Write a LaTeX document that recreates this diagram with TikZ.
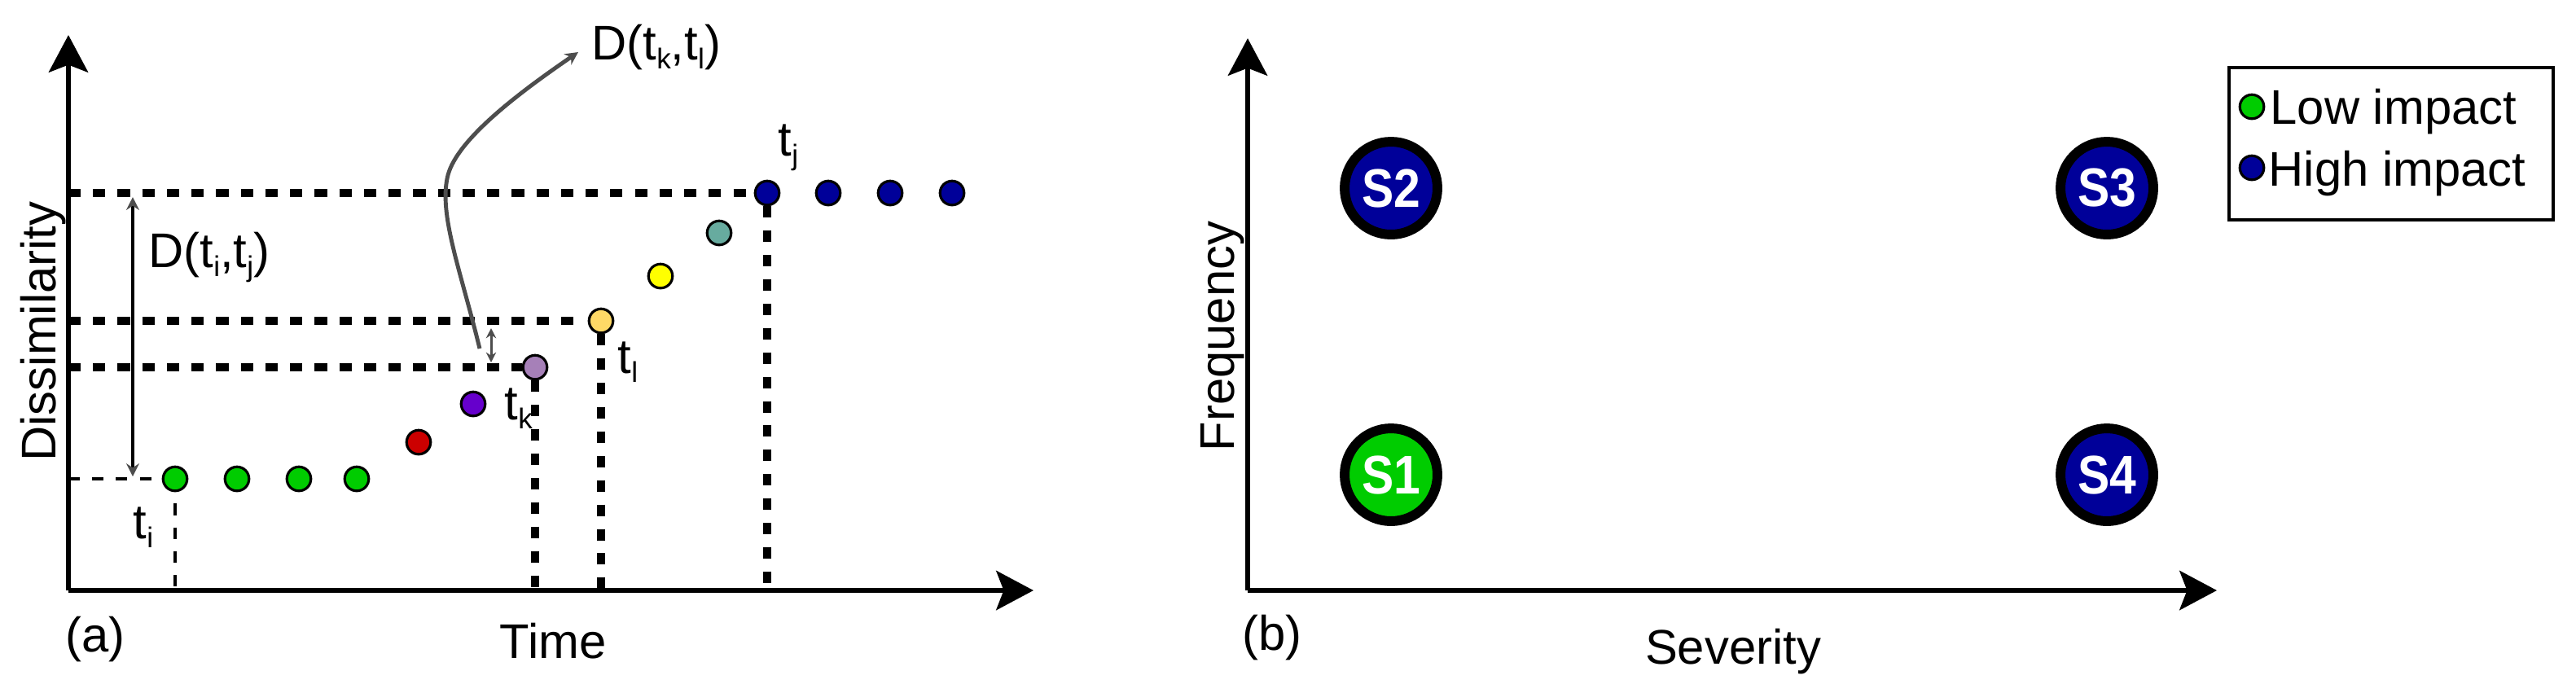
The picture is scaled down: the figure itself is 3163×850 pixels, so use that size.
\documentclass[tikz,border=0pt]{standalone}
\usepackage{fontspec}
\setmainfont{Liberation Sans}
\usetikzlibrary{arrows.meta}
\definecolor{cgreen}{HTML}{00CC00}
\definecolor{cnavy}{HTML}{000099}
\definecolor{cred}{HTML}{CC0000}
\definecolor{cpurple}{HTML}{6600CC}
\definecolor{clilac}{HTML}{A680B8}
\definecolor{clyellow}{HTML}{FFD966}
\definecolor{cyellow}{HTML}{FFFF00}
\definecolor{cteal}{HTML}{67AB9F}
\definecolor{cgrey}{HTML}{4D4D4D}
\newcommand\tsb[1]{t\raisebox{-3.4pt}{\fontsize{10}{10}\selectfont #1}}
\tikzset{
  txt/.style={font=\fontsize{17}{20}\selectfont, inner sep=0pt, anchor=base west},
  dot/.style={circle, draw=black, line width=0.9pt, minimum size=8.4pt, inner sep=0pt},
  bigdot/.style={circle, draw=black, line width=3.4pt, minimum size=32.4pt, inner sep=0pt,
    text=white, font=\fontsize{19}{20}\selectfont\bfseries},
  axis/.style={line width=1.7pt, -{Stealth[length=13pt,width=13.7pt,inset=2.6pt]}},
  thickdash/.style={line width=3pt, dash pattern=on 4.3pt off 4.3pt},
  vdash/.style={line width=2.6pt, dash pattern=on 4pt off 4.5pt},
  thindash/.style={line width=1.3pt, dash pattern=on 4pt off 4.3pt},
}
\begin{document}
\begin{tikzpicture}[x=0.01cm,y=-0.01cm]
\useasboundingbox (0,0) rectangle (3163,850);
% ---------- panel (a) ----------
\coordinate (oa) at (84,725);
\coordinate (ya) at (84,43);
\coordinate (xa) at (1269,725);
\draw[axis] (oa) -- (ya);
\draw[axis] (oa) -- (xa);

\node[dot, fill=cgreen] (g1) at (215,588) {};
\node[dot, fill=cgreen] (g2) at (291,588) {};
\node[dot, fill=cgreen] (g3) at (367,588) {};
\node[dot, fill=cgreen] (g4) at (438,588) {};
\node[dot, fill=cred] (r1) at (514,543) {};
\node[dot, fill=cpurple] (p1) at (581,496) {};
\node[dot, fill=clilac] (tk) at (657,451) {};
\node[dot, fill=clyellow] (tl) at (738,394) {};
\node[dot, fill=cyellow] (y1) at (811,339) {};
\node[dot, fill=cteal] (te) at (883,286) {};
\node[dot, fill=cnavy] (tj) at (942,237) {};
\node[dot, fill=cnavy] (b2) at (1017,237) {};
\node[dot, fill=cnavy] (b3) at (1093,237) {};
\node[dot, fill=cnavy] (b4) at (1169,237) {};

% horizontal guides
\coordinate (hj) at (84,237);
\coordinate (hl) at (84,394);
\coordinate (hk) at (84,451);
\coordinate (hi) at (84,588);
\draw[thickdash] (hj) -- (tj.west);
\draw[thickdash] (hl) -- ([xshift=-4pt]tl.west);
\draw[thickdash] (hk) -- (tk.west);
\draw[thindash] (hi) -- (g1.west);
% vertical guides
\coordinate (vk) at (657,725);
\coordinate (vl) at (738,725);
\coordinate (vj) at (942,725);
\coordinate (vi) at (215,725);
\draw[vdash] (tk.south) -- (vk);
\draw[vdash] (tl.south) -- (vl);
\draw[vdash] (tj.south) -- (vj);
\draw[thindash] ([yshift=-4pt]g1.south) -- (vi);

% D(ti,tj) arrow
\coordinate (dt) at (163,242);
\coordinate (db) at (163,585);
\draw[line width=1.2pt, {Stealth[length=4.5pt,width=4.5pt,color=cgrey]}-{Stealth[length=4.5pt,width=4.5pt,color=cgrey]}] (dt) -- (db);
% small double arrow between tk and tl
\coordinate (st) at (603,403);
\coordinate (sb) at (603,445);
\draw[cgrey, line width=0.85pt, {Stealth[length=3.5pt,width=3.5pt]}-{Stealth[length=3.5pt,width=3.5pt]}] (st) -- (sb);
% curved arrow to D(tk,tl)
\coordinate (cs) at (589,428);
\coordinate (cm) at (550,215);
\coordinate (ce) at (710,64);
\draw[cgrey, line width=1.4pt, -{Stealth[length=4.5pt,width=4.5pt]}]
  (cs) .. controls (565,330) and (538,262) .. (cm)
       .. controls (562,170) and (640,112) .. (ce);

% labels (a)
\node[txt] (lDij) at (182,328) {D(\tsb{i},\tsb{j})};
\node[txt] (lDkl) at (726,73) {D(\tsb{k},\tsb{l})};
\node[txt] (lti) at (163,661) {\tsb{i}};
\node[txt] (ltk) at (619,515) {\tsb{k}};
\node[txt] (ltl) at (758,458) {\tsb{l}};
\node[txt] (ltj) at (955,191) {\tsb{j}};
\node[txt] (la) at (80,800) {(a)};
\node[txt] (ltime) at (613,808) {Time};
\node[txt, anchor=base, rotate=90] (ldis) at (68,407) {Dissimilarity};

% ---------- panel (b) ----------
\coordinate (ob) at (1532,725);
\coordinate (yb) at (1532,47);
\coordinate (xb) at (2722,725);
\draw[axis] (ob) -- (yb);
\draw[axis] (ob) -- (xb);

\node[bigdot, fill=cnavy] (s2) at (1708,231) {\scalebox{0.88}[1]{S2}};
\node[bigdot, fill=cnavy] (s3) at (2587,231) {\scalebox{0.88}[1]{S3}};
\node[bigdot, fill=cgreen] (s1) at (1708,583) {\scalebox{0.88}[1]{S1}};
\node[bigdot, fill=cnavy] (s4) at (2587,583) {\scalebox{0.88}[1]{S4}};

\node[txt, anchor=base, rotate=90] (lfreq) at (1515,413) {Frequency};
\node[txt] (lb) at (1525,798) {(b)};
\node[txt, anchor=base] (lsev) at (2128,815) {Severity};

% legend
\node[draw=black, line width=1pt, minimum width=113.2pt, minimum height=53.2pt, inner sep=0pt] (legend) at (2936,176.5) {};
\node[dot, fill=cgreen] (lgd1) at (2765,131) {};
\node[dot, fill=cnavy] (lgd2) at (2765,206) {};
\node[txt] (llow) at (2787,152) {Low impact};
\node[txt] (lhigh) at (2785,228) {High impact};
\end{tikzpicture}
\end{document}
